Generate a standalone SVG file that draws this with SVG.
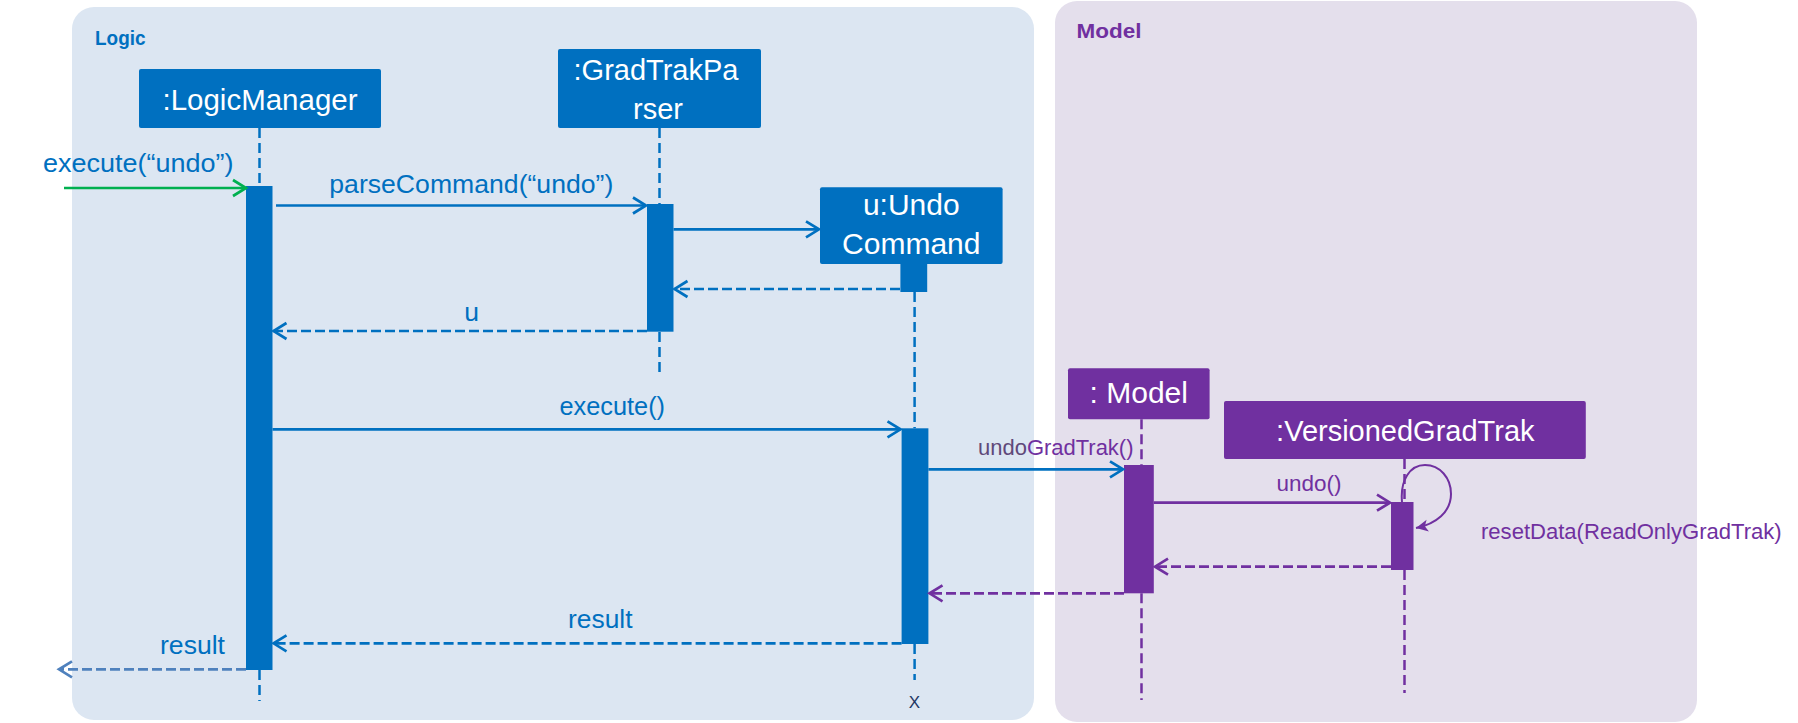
<svg xmlns="http://www.w3.org/2000/svg" width="1798" height="723" viewBox="0 0 1798 723">
<style>
text{font-family:"Liberation Sans",Arial,sans-serif}
.frameTitle{font-weight:bold;font-size:19.5px}
.boxB{fill:#0070C0}
.boxP{fill:#7030A0}
.boxText{fill:#FFFFFF;font-size:30px;text-anchor:middle}
.lifeB{stroke:#0070C0;stroke-width:2.5;stroke-dasharray:10 5;fill:none}
.lifeP{stroke:#7030A0;stroke-width:2.5;stroke-dasharray:10 5;fill:none}
.msgB{stroke:#0070C0;stroke-width:2.7;fill:none;marker-end:url(#arrB)}
.retB{stroke:#0070C0;stroke-width:2.7;fill:none;stroke-dasharray:10 4;marker-end:url(#arrB)}
.retL{stroke:#4F81BD;stroke-width:2.7;fill:none;stroke-dasharray:10 4;marker-end:url(#arrL)}
.msgG{stroke:#00B050;stroke-width:2.7;fill:none;marker-end:url(#arrG)}
.msgP{stroke:#7030A0;stroke-width:2.7;fill:none;marker-end:url(#arrP)}
.retP{stroke:#7030A0;stroke-width:2.7;fill:none;stroke-dasharray:10 4;marker-end:url(#arrP)}
.labB{fill:#0070C0;font-size:26.5px}
.labP{fill:#7030A0;font-size:22.5px}
</style>
<defs>
<marker id="arrB" markerUnits="userSpaceOnUse" markerWidth="18" markerHeight="20" viewBox="0 0 18 20" refX="15" refY="10" orient="auto"><path d="M2,2 L15,10 L2,18" fill="none" stroke="#0070C0" stroke-width="2.7"/></marker>
<marker id="arrL" markerUnits="userSpaceOnUse" markerWidth="18" markerHeight="20" viewBox="0 0 18 20" refX="15" refY="10" orient="auto"><path d="M2,2 L15,10 L2,18" fill="none" stroke="#4F81BD" stroke-width="2.7"/></marker>
<marker id="arrG" markerUnits="userSpaceOnUse" markerWidth="18" markerHeight="20" viewBox="0 0 18 20" refX="15" refY="10" orient="auto"><path d="M2,2 L15,10 L2,18" fill="none" stroke="#00B050" stroke-width="2.7"/></marker>
<marker id="arrP" markerUnits="userSpaceOnUse" markerWidth="18" markerHeight="20" viewBox="0 0 18 20" refX="15" refY="10" orient="auto"><path d="M2,2 L15,10 L2,18" fill="none" stroke="#7030A0" stroke-width="2.7"/></marker>
<marker id="arrPF" markerUnits="userSpaceOnUse" markerWidth="14" markerHeight="14" viewBox="0 0 14 14" refX="12" refY="7" orient="auto"><path d="M0,1 L12,7 L0,13 L3,7 Z" fill="#7030A0"/></marker>
</defs>

<g id="frame-logic">
<rect x="72" y="7" width="962" height="713" rx="22" fill="#DCE6F2"/>
<text class="frameTitle" x="95" y="45" fill="#0070C0" textLength="50.5" lengthAdjust="spacingAndGlyphs">Logic</text>
</g>
<g id="frame-model">
<rect x="1055" y="1" width="642" height="721" rx="22" fill="#E4DFEC"/>
<text class="frameTitle" x="1076.5" y="38" fill="#7030A0" textLength="65" lengthAdjust="spacingAndGlyphs">Model</text>
</g>

<g id="node-logicmanager">
<rect class="boxB" x="139" y="69" width="242" height="59" rx="2"/>
<text class="boxText" x="260" y="110" textLength="195" lengthAdjust="spacingAndGlyphs">:LogicManager</text>
<line class="lifeB" x1="259.5" y1="128" x2="259.5" y2="186"/>
<line class="lifeB" x1="259.5" y1="670" x2="259.5" y2="701"/>
<rect class="boxB" x="246" y="186" width="26.5" height="484"/>
</g>

<g id="node-gradtrakparser">
<rect class="boxB" x="558" y="49" width="203" height="79" rx="2"/>
<text class="boxText" x="656" y="80" style="font-size:29px">:GradTrakPa</text>
<text class="boxText" x="658" y="119.3" style="font-size:29px">rser</text>
<line class="lifeB" x1="659.5" y1="128" x2="659.5" y2="204"/>
<line class="lifeB" x1="659.5" y1="332" x2="659.5" y2="373"/>
<rect class="boxB" x="647" y="204" width="26.5" height="127.7"/>
</g>

<g id="node-undocommand">
<rect class="boxB" x="820" y="187.3" width="182.6" height="76.7" rx="2"/>
<text class="boxText" x="911.3" y="215">u:Undo</text>
<text class="boxText" x="911.3" y="254">Command</text>
<rect class="boxB" x="900.4" y="263" width="26.8" height="29"/>
<line class="lifeB" x1="914.6" y1="292" x2="914.6" y2="428.3"/>
<rect class="boxB" x="901.6" y="428.3" width="26.8" height="215.7"/>
<line class="lifeB" x1="914.6" y1="644" x2="914.6" y2="680"/>
<text x="914.3" y="708" fill="#1F3864" font-size="17" text-anchor="middle">X</text>
</g>

<g id="node-model">
<rect class="boxP" x="1068" y="368.3" width="141.6" height="51" rx="2"/>
<text class="boxText" x="1138.8" y="403">: Model</text>
<line class="lifeP" x1="1141.5" y1="419.3" x2="1141.5" y2="465"/>
<rect class="boxP" x="1124" y="465" width="29.8" height="128.3"/>
<line class="lifeP" x1="1141.5" y1="593.3" x2="1141.5" y2="700"/>
</g>

<g id="node-versionedgradtrak">
<rect class="boxP" x="1224" y="401" width="361.8" height="58" rx="2"/>
<text class="boxText" x="1405.3" y="440.7" style="font-size:29px">:VersionedGradTrak</text>
<line class="lifeP" x1="1404.5" y1="459" x2="1404.5" y2="502"/>
<rect class="boxP" x="1391" y="502" width="22.5" height="68"/>
<line class="lifeP" x1="1404.5" y1="570" x2="1404.5" y2="693"/>
</g>

<g id="connectors">
<line class="msgG" x1="64" y1="188" x2="246" y2="188"/>
<text class="labB" x="43" y="172" textLength="190.5" lengthAdjust="spacingAndGlyphs">execute(“undo”)</text>

<line class="msgB" x1="276" y1="205.5" x2="646" y2="205.5"/>
<text class="labB" x="329.3" y="193.3" textLength="284" lengthAdjust="spacingAndGlyphs">parseCommand(“undo”)</text>

<line class="msgB" x1="673.5" y1="229.3" x2="819" y2="229.3"/>

<line class="retB" x1="900" y1="289" x2="674.5" y2="289"/>

<line class="retB" x1="647" y1="331" x2="273.5" y2="331"/>
<text class="labB" x="464.2" y="320.7">u</text>

<line class="msgB" x1="272.5" y1="429.3" x2="900.5" y2="429.3"/>
<text class="labB" x="559.5" y="415" textLength="105.5" lengthAdjust="spacingAndGlyphs">execute()</text>

<line class="msgB" x1="928.4" y1="469.3" x2="1123" y2="469.3"/>
<text class="labP" x="978" y="455" textLength="155.5" lengthAdjust="spacingAndGlyphs"><tspan fill="#5F497A">undo</tspan>GradTrak()</text>

<line class="msgP" x1="1153.8" y1="502.7" x2="1390" y2="502.7"/>
<text class="labP" x="1276.5" y="491" textLength="65" lengthAdjust="spacingAndGlyphs">undo()</text>

<path d="M1402,502 C1400,480 1410,465 1425,465 C1440,465 1451,478 1451,494 C1451,512 1436,524 1416,528" fill="none" stroke="#7030A0" stroke-width="2" marker-end="url(#arrPF)"/>
<text class="labP" x="1481" y="539.3" textLength="300.7" lengthAdjust="spacingAndGlyphs">resetData(ReadOnlyGradTrak)</text>

<line class="retP" x1="1391" y1="566.7" x2="1155" y2="566.7"/>

<line class="retP" x1="1124" y1="593.3" x2="929.5" y2="593.3"/>

<line class="retB" x1="901.6" y1="643.3" x2="273.5" y2="643.3"/>
<text class="labB" x="568" y="628.3" textLength="64.5" lengthAdjust="spacingAndGlyphs">result</text>

<line class="retL" x1="246" y1="669.3" x2="59" y2="669.3"/>
<text class="labB" x="160" y="654" textLength="65" lengthAdjust="spacingAndGlyphs">result</text>
</g>
</svg>
